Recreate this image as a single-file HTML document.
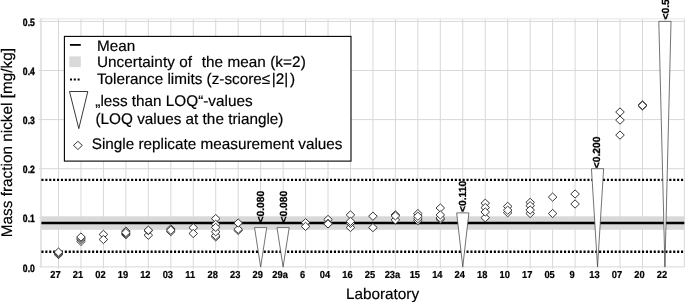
<!DOCTYPE html>
<html lang="en"><head><meta charset="utf-8"><title>Nickel mass fraction by laboratory</title>
<style>html,body{margin:0;padding:0;background:#fff}svg{display:block}</style></head>
<body>
<svg width="685" height="302" viewBox="0 0 685 302" font-family="'Liberation Sans', Arial, sans-serif" text-rendering="geometricPrecision">
<rect width="685" height="302" fill="#fff"/>
<rect x="41" y="216.3" width="643.3" height="13.5" fill="#d9d9d9"/>
<path d="M58.50 18.9V268.7 M80.96 18.9V268.7 M103.42 18.9V268.7 M125.88 18.9V268.7 M148.34 18.9V268.7 M170.80 18.9V268.7 M193.26 18.9V268.7 M215.72 18.9V268.7 M238.18 18.9V268.7 M260.64 18.9V268.7 M283.10 18.9V268.7 M305.56 18.9V268.7 M328.02 18.9V268.7 M350.48 18.9V268.7 M372.94 18.9V268.7 M395.40 18.9V268.7 M417.86 18.9V268.7 M440.32 18.9V268.7 M462.78 18.9V268.7 M485.24 18.9V268.7 M507.70 18.9V268.7 M530.16 18.9V268.7 M552.62 18.9V268.7 M575.08 18.9V268.7 M597.54 18.9V268.7 M620.00 18.9V268.7 M642.46 18.9V268.7 M664.92 18.9V268.7 M38.9 266.90H685 M38.9 217.80H685 M38.9 168.70H685 M38.9 119.60H685 M38.9 70.50H685 M38.9 21.40H685 M684.3 18.9V266.9" stroke="#d8d8d8" stroke-width="1" fill="none"/>
<path d="M40.2 18.8H685" stroke="#e6e6e6" stroke-width="1" fill="none"/>
<path d="M40.95 18.4V267.4" stroke="#dcdcdc" stroke-width="1.5" fill="none"/>
<path d="M41.4 179.9H684.3" stroke="#000" stroke-width="2.4" stroke-dasharray="2.1 1.8" fill="none"/>
<path d="M41.4 251.8H684.3" stroke="#000" stroke-width="2.4" stroke-dasharray="2.1 1.8" fill="none"/>
<path d="M41.4 222.9H684.3" stroke="#000" stroke-width="2.5" fill="none"/>
<path d="M254.54 227.62H266.74L260.64 266.90Z" fill="#fff" stroke="#444" stroke-width="0.75" stroke-linejoin="miter"/>
<path d="M277.00 227.62H289.20L283.10 266.90Z" fill="#fff" stroke="#444" stroke-width="0.75" stroke-linejoin="miter"/>
<path d="M456.68 212.89H468.88L462.78 266.90Z" fill="#fff" stroke="#444" stroke-width="0.75" stroke-linejoin="miter"/>
<path d="M591.44 168.70H603.64L597.54 266.90Z" fill="#fff" stroke="#444" stroke-width="0.75" stroke-linejoin="miter"/>
<path d="M658.82 21.40H671.02L664.92 266.90Z" fill="#fff" stroke="#444" stroke-width="0.75" stroke-linejoin="miter"/>
<g fill="#fff" stroke="#222" stroke-width="0.9"><path d="M58.50 250.40L62.80 254.50L58.50 258.60L54.20 254.50Z"/><path d="M58.50 249.70L62.80 253.80L58.50 257.90L54.20 253.80Z"/><path d="M58.50 248.90L62.80 253.00L58.50 257.10L54.20 253.00Z"/><path d="M58.50 248.00L62.80 252.10L58.50 256.20L54.20 252.10Z"/><path d="M80.96 237.30L85.26 241.40L80.96 245.50L76.66 241.40Z"/><path d="M80.96 235.40L85.26 239.50L80.96 243.60L76.66 239.50Z"/><path d="M80.96 234.10L85.26 238.20L80.96 242.30L76.66 238.20Z"/><path d="M80.96 232.90L85.26 237.00L80.96 241.10L76.66 237.00Z"/><path d="M103.42 230.30L107.72 234.40L103.42 238.50L99.12 234.40Z"/><path d="M103.42 235.40L107.72 239.50L103.42 243.60L99.12 239.50Z"/><path d="M125.88 230.60L130.18 234.70L125.88 238.80L121.58 234.70Z"/><path d="M125.88 227.10L130.18 231.20L125.88 235.30L121.58 231.20Z"/><path d="M125.88 229.50L130.18 233.60L125.88 237.70L121.58 233.60Z"/><path d="M125.88 228.50L130.18 232.60L125.88 236.70L121.58 232.60Z"/><path d="M148.34 231.10L152.64 235.20L148.34 239.30L144.04 235.20Z"/><path d="M148.34 226.50L152.64 230.60L148.34 234.70L144.04 230.60Z"/><path d="M148.34 226.10L152.64 230.20L148.34 234.30L144.04 230.20Z"/><path d="M170.80 227.50L175.10 231.60L170.80 235.70L166.50 231.60Z"/><path d="M170.80 224.90L175.10 229.00L170.80 233.10L166.50 229.00Z"/><path d="M170.80 226.10L175.10 230.20L170.80 234.30L166.50 230.20Z"/><path d="M193.26 223.60L197.56 227.70L193.26 231.80L188.96 227.70Z"/><path d="M193.26 229.40L197.56 233.50L193.26 237.60L188.96 233.50Z"/><path d="M215.72 232.80L220.02 236.90L215.72 241.00L211.42 236.90Z"/><path d="M215.72 231.50L220.02 235.60L215.72 239.70L211.42 235.60Z"/><path d="M215.72 214.50L220.02 218.60L215.72 222.70L211.42 218.60Z"/><path d="M215.72 227.70L220.02 231.80L215.72 235.90L211.42 231.80Z"/><path d="M215.72 220.20L220.02 224.30L215.72 228.40L211.42 224.30Z"/><path d="M215.72 223.30L220.02 227.40L215.72 231.50L211.42 227.40Z"/><path d="M238.18 226.30L242.48 230.40L238.18 234.50L233.88 230.40Z"/><path d="M238.18 225.20L242.48 229.30L238.18 233.40L233.88 229.30Z"/><path d="M238.18 218.90L242.48 223.00L238.18 227.10L233.88 223.00Z"/><path d="M305.56 218.60L309.86 222.70L305.56 226.80L301.26 222.70Z"/><path d="M305.56 222.30L309.86 226.40L305.56 230.50L301.26 226.40Z"/><path d="M328.02 215.40L332.32 219.50L328.02 223.60L323.72 219.50Z"/><path d="M328.02 219.30L332.32 223.40L328.02 227.50L323.72 223.40Z"/><path d="M328.02 219.80L332.32 223.90L328.02 228.00L323.72 223.90Z"/><path d="M350.48 210.80L354.78 214.90L350.48 219.00L346.18 214.90Z"/><path d="M350.48 223.40L354.78 227.50L350.48 231.60L346.18 227.50Z"/><path d="M350.48 219.20L354.78 223.30L350.48 227.40L346.18 223.30Z"/><path d="M350.48 217.30L354.78 221.40L350.48 225.50L346.18 221.40Z"/><path d="M372.94 212.10L377.24 216.20L372.94 220.30L368.64 216.20Z"/><path d="M372.94 223.50L377.24 227.60L372.94 231.70L368.64 227.60Z"/><path d="M395.40 215.80L399.70 219.90L395.40 224.00L391.10 219.90Z"/><path d="M395.40 210.80L399.70 214.90L395.40 219.00L391.10 214.90Z"/><path d="M395.40 211.80L399.70 215.90L395.40 220.00L391.10 215.90Z"/><path d="M417.86 216.50L422.16 220.60L417.86 224.70L413.56 220.60Z"/><path d="M417.86 214.60L422.16 218.70L417.86 222.80L413.56 218.70Z"/><path d="M417.86 209.50L422.16 213.60L417.86 217.70L413.56 213.60Z"/><path d="M417.86 212.10L422.16 216.20L417.86 220.30L413.56 216.20Z"/><path d="M440.32 215.20L444.62 219.30L440.32 223.40L436.02 219.30Z"/><path d="M440.32 213.90L444.62 218.00L440.32 222.10L436.02 218.00Z"/><path d="M440.32 203.90L444.62 208.00L440.32 212.10L436.02 208.00Z"/><path d="M440.32 210.80L444.62 214.90L440.32 219.00L436.02 214.90Z"/><path d="M485.24 213.60L489.54 217.70L485.24 221.80L480.94 217.70Z"/><path d="M485.24 199.10L489.54 203.20L485.24 207.30L480.94 203.20Z"/><path d="M485.24 203.50L489.54 207.60L485.24 211.70L480.94 207.60Z"/><path d="M485.24 207.90L489.54 212.00L485.24 216.10L480.94 212.00Z"/><path d="M507.70 208.60L512.00 212.70L507.70 216.80L503.40 212.70Z"/><path d="M507.70 202.30L512.00 206.40L507.70 210.50L503.40 206.40Z"/><path d="M507.70 206.10L512.00 210.20L507.70 214.30L503.40 210.20Z"/><path d="M530.16 198.30L534.46 202.40L530.16 206.50L525.86 202.40Z"/><path d="M530.16 209.40L534.46 213.50L530.16 217.60L525.86 213.50Z"/><path d="M530.16 201.60L534.46 205.70L530.16 209.80L525.86 205.70Z"/><path d="M530.16 205.90L534.46 210.00L530.16 214.10L525.86 210.00Z"/><path d="M552.62 193.00L556.92 197.10L552.62 201.20L548.32 197.10Z"/><path d="M552.62 209.40L556.92 213.50L552.62 217.60L548.32 213.50Z"/><path d="M575.08 189.90L579.38 194.00L575.08 198.10L570.78 194.00Z"/><path d="M575.08 199.90L579.38 204.00L575.08 208.10L570.78 204.00Z"/><path d="M620.00 107.90L624.30 112.00L620.00 116.10L615.70 112.00Z"/><path d="M620.00 116.00L624.30 120.10L620.00 124.20L615.70 120.10Z"/><path d="M620.00 131.00L624.30 135.10L620.00 139.20L615.70 135.10Z"/><path d="M642.46 100.80L646.76 104.90L642.46 109.00L638.16 104.90Z"/><path d="M642.46 101.80L646.76 105.90L642.46 110.00L638.16 105.90Z"/><path d="M642.46 101.30L646.76 105.40L642.46 109.50L638.16 105.40Z"/></g>
<text transform="translate(264.14 222.5) rotate(-90)" font-size="10.3" font-weight="bold" stroke="#000" stroke-width="0.25">&lt;0.080</text>
<text transform="translate(287.20 222.5) rotate(-90)" font-size="10.3" font-weight="bold" stroke="#000" stroke-width="0.25">&lt;0.080</text>
<text transform="translate(466.18 212.0) rotate(-90)" font-size="10.3" font-weight="bold" stroke="#000" stroke-width="0.25">&lt;0.110</text>
<text transform="translate(600.44 168.3) rotate(-90)" font-size="10.3" font-weight="bold" stroke="#000" stroke-width="0.25">&lt;0.200</text>
<text transform="translate(669.22 19.6) rotate(-90)" font-size="10.3" font-weight="bold" stroke="#000" stroke-width="0.25">&lt;0.500</text>
<text transform="translate(55.50 278.2) scale(1 1.09)" font-size="9.3" font-weight="bold" text-anchor="middle" stroke="#000" stroke-width="0.2">27</text>
<text transform="translate(77.96 278.2) scale(1 1.09)" font-size="9.3" font-weight="bold" text-anchor="middle" stroke="#000" stroke-width="0.2">21</text>
<text transform="translate(100.42 278.2) scale(1 1.09)" font-size="9.3" font-weight="bold" text-anchor="middle" stroke="#000" stroke-width="0.2">02</text>
<text transform="translate(122.88 278.2) scale(1 1.09)" font-size="9.3" font-weight="bold" text-anchor="middle" stroke="#000" stroke-width="0.2">19</text>
<text transform="translate(145.34 278.2) scale(1 1.09)" font-size="9.3" font-weight="bold" text-anchor="middle" stroke="#000" stroke-width="0.2">12</text>
<text transform="translate(167.80 278.2) scale(1 1.09)" font-size="9.3" font-weight="bold" text-anchor="middle" stroke="#000" stroke-width="0.2">03</text>
<text transform="translate(190.26 278.2) scale(1 1.09)" font-size="9.3" font-weight="bold" text-anchor="middle" stroke="#000" stroke-width="0.2">11</text>
<text transform="translate(212.72 278.2) scale(1 1.09)" font-size="9.3" font-weight="bold" text-anchor="middle" stroke="#000" stroke-width="0.2">28</text>
<text transform="translate(235.18 278.2) scale(1 1.09)" font-size="9.3" font-weight="bold" text-anchor="middle" stroke="#000" stroke-width="0.2">23</text>
<text transform="translate(257.64 278.2) scale(1 1.09)" font-size="9.3" font-weight="bold" text-anchor="middle" stroke="#000" stroke-width="0.2">29</text>
<text transform="translate(280.10 278.2) scale(1 1.09)" font-size="9.3" font-weight="bold" text-anchor="middle" stroke="#000" stroke-width="0.2">29a</text>
<text transform="translate(302.56 278.2) scale(1 1.09)" font-size="9.3" font-weight="bold" text-anchor="middle" stroke="#000" stroke-width="0.2">6</text>
<text transform="translate(325.02 278.2) scale(1 1.09)" font-size="9.3" font-weight="bold" text-anchor="middle" stroke="#000" stroke-width="0.2">04</text>
<text transform="translate(347.48 278.2) scale(1 1.09)" font-size="9.3" font-weight="bold" text-anchor="middle" stroke="#000" stroke-width="0.2">16</text>
<text transform="translate(369.94 278.2) scale(1 1.09)" font-size="9.3" font-weight="bold" text-anchor="middle" stroke="#000" stroke-width="0.2">25</text>
<text transform="translate(392.40 278.2) scale(1 1.09)" font-size="9.3" font-weight="bold" text-anchor="middle" stroke="#000" stroke-width="0.2">23a</text>
<text transform="translate(414.86 278.2) scale(1 1.09)" font-size="9.3" font-weight="bold" text-anchor="middle" stroke="#000" stroke-width="0.2">15</text>
<text transform="translate(437.32 278.2) scale(1 1.09)" font-size="9.3" font-weight="bold" text-anchor="middle" stroke="#000" stroke-width="0.2">14</text>
<text transform="translate(459.78 278.2) scale(1 1.09)" font-size="9.3" font-weight="bold" text-anchor="middle" stroke="#000" stroke-width="0.2">24</text>
<text transform="translate(482.24 278.2) scale(1 1.09)" font-size="9.3" font-weight="bold" text-anchor="middle" stroke="#000" stroke-width="0.2">18</text>
<text transform="translate(504.70 278.2) scale(1 1.09)" font-size="9.3" font-weight="bold" text-anchor="middle" stroke="#000" stroke-width="0.2">10</text>
<text transform="translate(527.16 278.2) scale(1 1.09)" font-size="9.3" font-weight="bold" text-anchor="middle" stroke="#000" stroke-width="0.2">17</text>
<text transform="translate(549.62 278.2) scale(1 1.09)" font-size="9.3" font-weight="bold" text-anchor="middle" stroke="#000" stroke-width="0.2">05</text>
<text transform="translate(572.08 278.2) scale(1 1.09)" font-size="9.3" font-weight="bold" text-anchor="middle" stroke="#000" stroke-width="0.2">9</text>
<text transform="translate(594.54 278.2) scale(1 1.09)" font-size="9.3" font-weight="bold" text-anchor="middle" stroke="#000" stroke-width="0.2">13</text>
<text transform="translate(617.00 278.2) scale(1 1.09)" font-size="9.3" font-weight="bold" text-anchor="middle" stroke="#000" stroke-width="0.2">07</text>
<text transform="translate(639.46 278.2) scale(1 1.09)" font-size="9.3" font-weight="bold" text-anchor="middle" stroke="#000" stroke-width="0.2">20</text>
<text transform="translate(661.92 278.2) scale(1 1.09)" font-size="9.3" font-weight="bold" text-anchor="middle" stroke="#000" stroke-width="0.2">22</text>
<text transform="translate(34.8 271.50) scale(0.81 1)" font-size="10.6" font-weight="bold" stroke="#000" stroke-width="0.4" text-anchor="end">0.0</text>
<text transform="translate(34.8 222.40) scale(0.81 1)" font-size="10.6" font-weight="bold" stroke="#000" stroke-width="0.4" text-anchor="end">0.1</text>
<text transform="translate(34.8 173.30) scale(0.81 1)" font-size="10.6" font-weight="bold" stroke="#000" stroke-width="0.4" text-anchor="end">0.2</text>
<text transform="translate(34.8 124.20) scale(0.81 1)" font-size="10.6" font-weight="bold" stroke="#000" stroke-width="0.4" text-anchor="end">0.3</text>
<text transform="translate(34.8 75.10) scale(0.81 1)" font-size="10.6" font-weight="bold" stroke="#000" stroke-width="0.4" text-anchor="end">0.4</text>
<text transform="translate(34.8 26.00) scale(0.81 1)" font-size="10.6" font-weight="bold" stroke="#000" stroke-width="0.4" text-anchor="end">0.5</text>
<text x="382.5" y="298.7" font-size="15.3" text-anchor="middle" stroke="#000" stroke-width="0.18">Laboratory</text>
<text transform="translate(12.2 142.6) rotate(-90)" font-size="15.35" stroke="#000" stroke-width="0.18" text-anchor="middle">Mass fraction nickel [mg/kg]</text>
<rect x="64.4" y="36.4" width="286.6" height="124.7" fill="#fff" stroke="#000" stroke-width="1.1"/>
<path d="M69.9 44.9H80.8" stroke="#000" stroke-width="1.8"/>
<rect x="69.3" y="56.4" width="11.5" height="10.7" fill="#d9d9d9"/>
<path d="M70 79.6H80" stroke="#000" stroke-width="2" stroke-dasharray="2 1.8"/>
<path d="M69.5 91.5H87.8L78.8 128.6Z" fill="#fff" stroke="#222" stroke-width="0.9"/>
<path d="M77.9 141.3L82.3 145.4L77.9 149.5L73.5 145.4Z" fill="#fff" stroke="#222" stroke-width="0.9"/>
<g font-size="15.3" stroke="#000" stroke-width="0.18">
<text x="96.9" y="51.2">Mean</text>
<text x="96.9" y="67.1" xml:space="preserve" style="white-space:pre" letter-spacing="0.06">Uncertainty of  <tspan dx="0.9">the mean (k=2)</tspan></text>
<text x="96.9" y="84">Tolerance limits (z-score≤<tspan dx="1.5">|2|</tspan><tspan dx="1.9">)</tspan></text>
<text x="95.3" y="105.8">„less than LOQ“-values</text>
<text x="95.5" y="124">(LOQ values at the triangle)</text>
<text x="91.7" y="149.4">Single replicate measurement values</text>
</g>
</svg>
</body></html>
